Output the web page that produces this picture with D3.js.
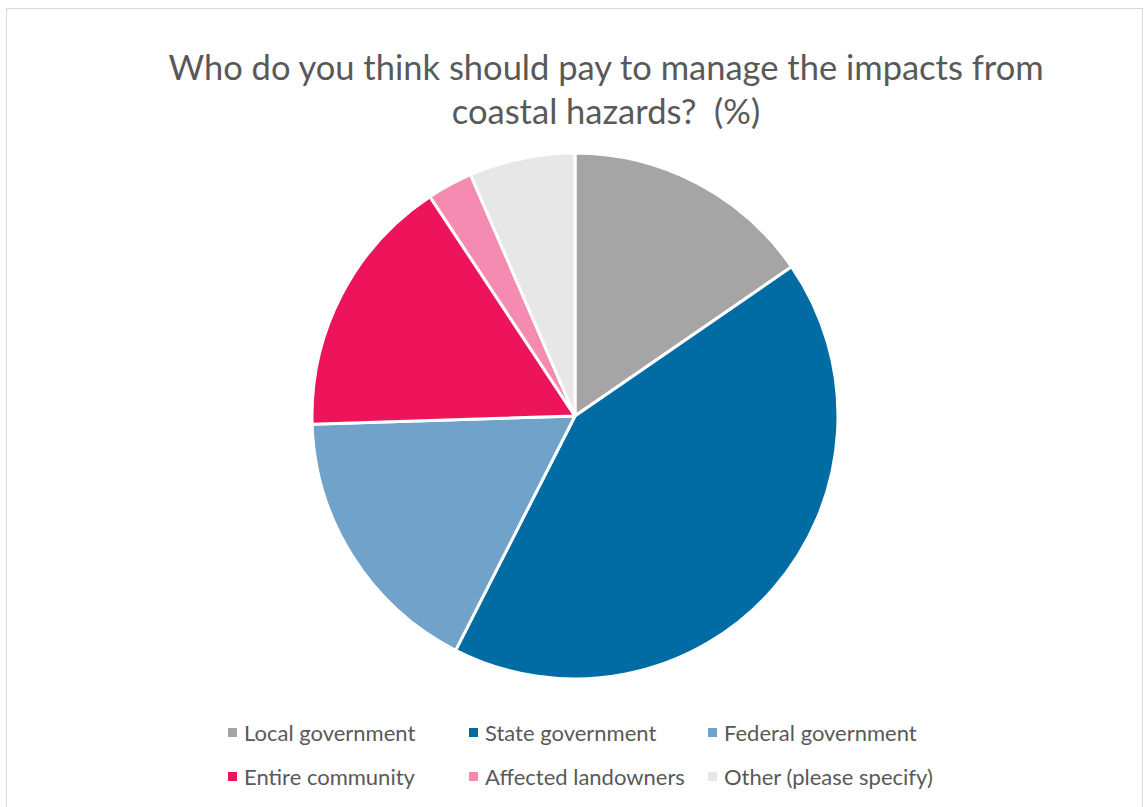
<!DOCTYPE html>
<html>
<head>
<meta charset="utf-8">
<script src="https://cdn.jsdelivr.net/npm/d3@7"></script>
<style>
  html, body { margin: 0; padding: 0; background: #fff; }
  svg { display: block; }
  text { font-family: Lato, "Open Sans", sans-serif; fill: #595959; white-space: pre; }
</style>
</head>
<body>
<svg id="chart" width="1144" height="807"></svg>
<script>
// Survey responses (%)
const categories = ["Local government", "State government", "Federal government",
                    "Entire community", "Affected landowners", "Other (please specify)"];
const values = [15.4, 42.1, 17.0, 16.2, 2.8, 6.5];
const colors = ["#A5A5A5", "#006CA3", "#71A2C9", "#EE145B", "#F58BB0", "#E7E7E7"];
const titleLines = ["Who do you think should pay to manage the impacts from",
                    "coastal hazards?  (%)"];

const svg = d3.select("#chart");

// chart frame
svg.append("rect")
  .attr("x", 6.5).attr("y", 8.5)
  .attr("width", 1136).attr("height", 810)
  .attr("fill", "#fff")
  .attr("stroke", "#D9D9D9").attr("stroke-width", 1);

// title
const title = svg.append("text")
  .attr("text-anchor", "middle")
  .attr("font-size", 34.5)
  .attr("xml:space", "preserve");
title.selectAll("tspan").data(titleLines).join("tspan")
  .attr("x", 606)
  .attr("y", (d, i) => 80 + i * 44)
  .text(d => d);

// pie
const cx = 575, cy = 416, r = 263;
const data = categories.map((c, i) => ({ name: c, value: values[i], color: colors[i] }));
const pie = d3.pie().value(d => d.value).sort(null);
const arc = d3.arc().innerRadius(0).outerRadius(r);

svg.append("g")
  .attr("transform", `translate(${cx},${cy})`)
  .selectAll("path")
  .data(pie(data))
  .join("path")
  .attr("d", arc)
  .attr("fill", d => d.data.color)
  .attr("stroke", "#fff")
  .attr("stroke-width", 3)
  .attr("stroke-linejoin", "round");

// legend: 3 columns x 2 rows
const colX = [228, 469, 708];
const rowY = [733, 777];
const legend = svg.append("g").selectAll("g")
  .data(data)
  .join("g")
  .attr("transform", (d, i) => `translate(${colX[i % 3]},${rowY[Math.floor(i / 3)]})`);

legend.append("rect")
  .attr("x", 0).attr("y", -5)
  .attr("width", 9).attr("height", 9)
  .attr("fill", d => d.color);

legend.append("text")
  .attr("x", 16)
  .attr("y", 7.5)
  .attr("font-size", 22)
  .text(d => d.name);
</script>
</body>
</html>
